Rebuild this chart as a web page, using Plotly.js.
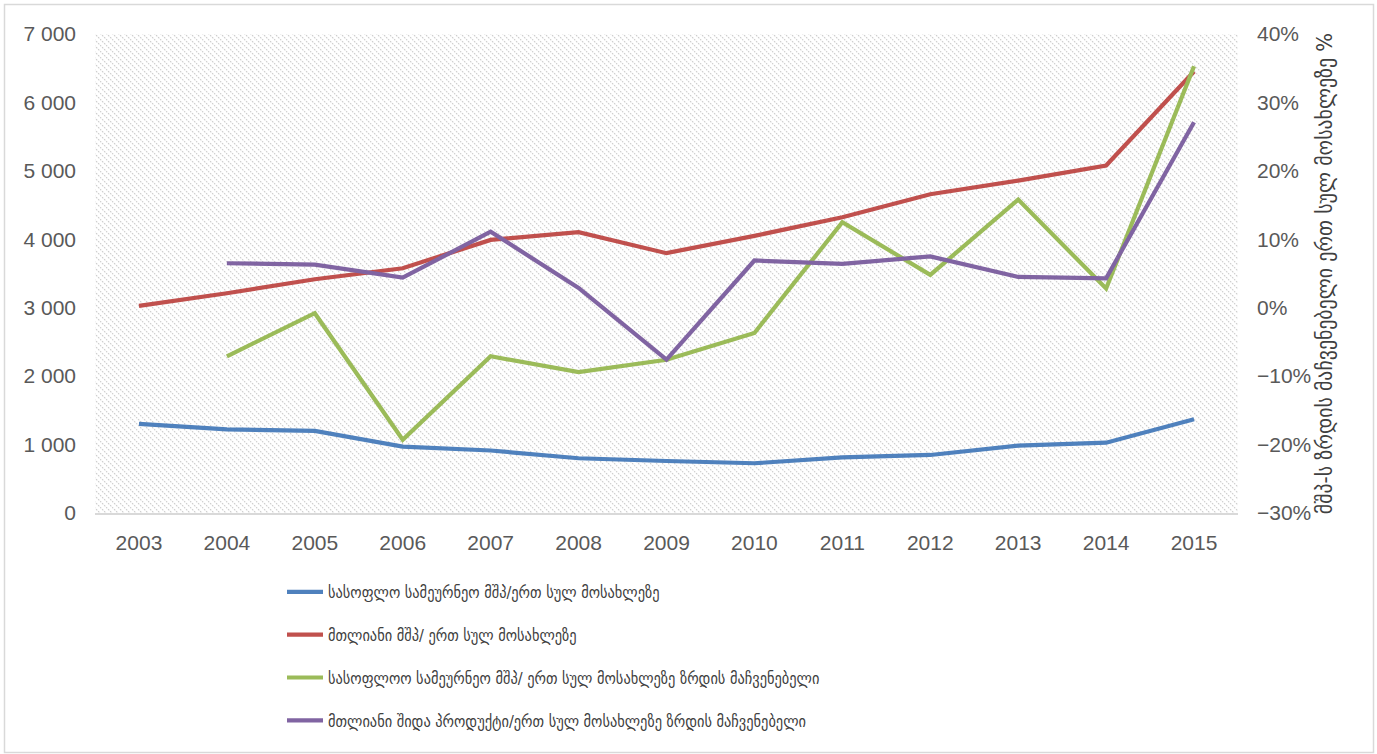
<!DOCTYPE html>
<html>
<head>
<meta charset="utf-8">
<script src="https://cdn.plot.ly/plotly-3.0.1.min.js"></script>
<style>
html,body{margin:0;padding:0;background:#fff;}
#chart{width:1377px;height:754px;}
</style>
</head>
<body>
<div id="chart"></div>
<script>
const years = ["2003","2004","2005","2006","2007","2008","2009","2010","2011","2012","2013","2014","2015"];
const agriGdpPerCapita = [1301, 1223, 1199, 969, 913, 800, 760, 727, 814, 848, 984, 1028, 1370];
const totalGdpPerCapita = [3026, 3212, 3416, 3577, 3991, 4104, 3797, 4050, 4323, 4659, 4858, 5078, 6452];
const agriGrowthPct = [null, -7.1, -0.8, -19.3, -7.1, -9.4, -7.6, -3.7, 12.5, 4.8, 15.8, 2.8, 35.3];
const gdpGrowthPct = [null, 6.5, 6.3, 4.4, 11.1, 2.9, -7.6, 6.9, 6.4, 7.5, 4.5, 4.3, 27.1];
const seriesNames = [
  "სასოფლო სამეურნეო მშპ/ერთ სულ მოსახლეზე",
  "მთლიანი მშპ/ ერთ სულ მოსახლეზე",
  "სასოფლოო სამეურნეო მშპ/ ერთ სულ მოსახლეზე ზრდის მაჩვენებელი",
  "მთლიანი შიდა პროდუქტი/ერთ სულ მოსახლეზე ზრდის მაჩვენებელი"
];
const rightAxisTitle = "მშპ-ს ზრდის მაჩვენებელი ერთ სულ მოსახლეზე %";

const W = 1377, H = 754;
const M = {l: 95, r: 139, t: 34, b: 241};
const PW = W - M.l - M.r, PH = H - M.t - M.b;
const px2x = p => (p - M.l) / PW;
const px2y = p => (H - M.b - p) / PH;

// hatch background pattern as svg image
const hatchSvg = `<svg xmlns="http://www.w3.org/2000/svg" width="${PW}" height="${PH}">
<defs><pattern id="h" width="6" height="6" patternUnits="userSpaceOnUse">
<path d="M-1,-1 L7,7 M-1,5 L1,7 M5,-1 L7,1" stroke="#cdcdcd" stroke-width="1.1" stroke-dasharray="1.8,1.1"/>
</pattern></defs>
<rect width="100%" height="100%" fill="#fff"/>
<rect width="100%" height="100%" fill="url(#h)"/>
</svg>`;
const hatchUri = "data:image/svg+xml;base64," + btoa(hatchSvg);

const tickFont = {family: "Liberation Sans Narrow, Arial Narrow, Liberation Sans, sans-serif", size: 21, color: "#595959"};
const geoFont = {family: "DejaVu Sans Condensed, DejaVu Sans, sans-serif", size: 16, color: "#404040"};

const colors = ["#4f81bd", "#c0504d", "#9bbb59", "#8064a2"];
const traces = [
  {x: years, y: agriGdpPerCapita, name: seriesNames[0], yaxis: "y", legendgroup: "a"},
  {x: years, y: totalGdpPerCapita, name: seriesNames[1], yaxis: "y", legendgroup: "b"},
  {x: years, y: agriGrowthPct, name: seriesNames[2], yaxis: "y2", legendgroup: "c"},
  {x: years, y: gdpGrowthPct, name: seriesNames[3], yaxis: "y2", legendgroup: "d"}
].map((t, i) => Object.assign(t, {
  type: "scatter", mode: "lines",
  line: {color: colors[i], width: 4.2},
  connectgaps: false, hoverinfo: "x+y"
}));

const layout = {
  width: W, height: H,
  margin: M,
  paper_bgcolor: "#ffffff",
  plot_bgcolor: "#ffffff",
  separators: ". ",
  showlegend: true,
  legend: {
    x: px2x(282), y: px2y(575), xanchor: "left", yanchor: "top",
    orientation: "v", traceorder: "grouped", tracegroupgap: 19,
    font: geoFont, bgcolor: "rgba(0,0,0,0)", itemwidth: 36
  },
  xaxis: {
    type: "category", range: [-0.5, 12.5],
    showgrid: false, zeroline: false,
    showline: true, linecolor: "#d9d9d9", linewidth: 2,
    ticks: "", tickfont: tickFont, ticklabelstandoff: 10
  },
  yaxis: {
    range: [0, 7000], dtick: 1000, tickformat: ",.0f",
    showgrid: false, zeroline: false, showline: false,
    ticks: "", tickfont: tickFont, ticklabelstandoff: 18
  },
  yaxis2: {
    overlaying: "y", side: "right",
    range: [-30, 40], dtick: 10, ticksuffix: "%",
    showgrid: false, zeroline: false, showline: false,
    ticks: "", tickfont: tickFont, ticklabelstandoff: 18,
    title: {text: rightAxisTitle, font: {family: geoFont.family, size: 22, color: "#404040"}, standoff: 6}
  },
  images: [{
    source: hatchUri, xref: "paper", yref: "paper",
    x: 0, y: 1, sizex: 1, sizey: 1, sizing: "stretch",
    xanchor: "left", yanchor: "top", layer: "below"
  }],
  shapes: [{
    type: "rect", xref: "paper", yref: "paper",
    x0: px2x(4.5), x1: px2x(1373.5), y0: px2y(752.5), y1: px2y(4.5),
    line: {color: "#d9d9d9", width: 1.5}, fillcolor: "rgba(0,0,0,0)", layer: "below"
  }]
};

Plotly.newPlot("chart", traces, layout, {displayModeBar: false, staticPlot: true});
</script>
</body>
</html>
